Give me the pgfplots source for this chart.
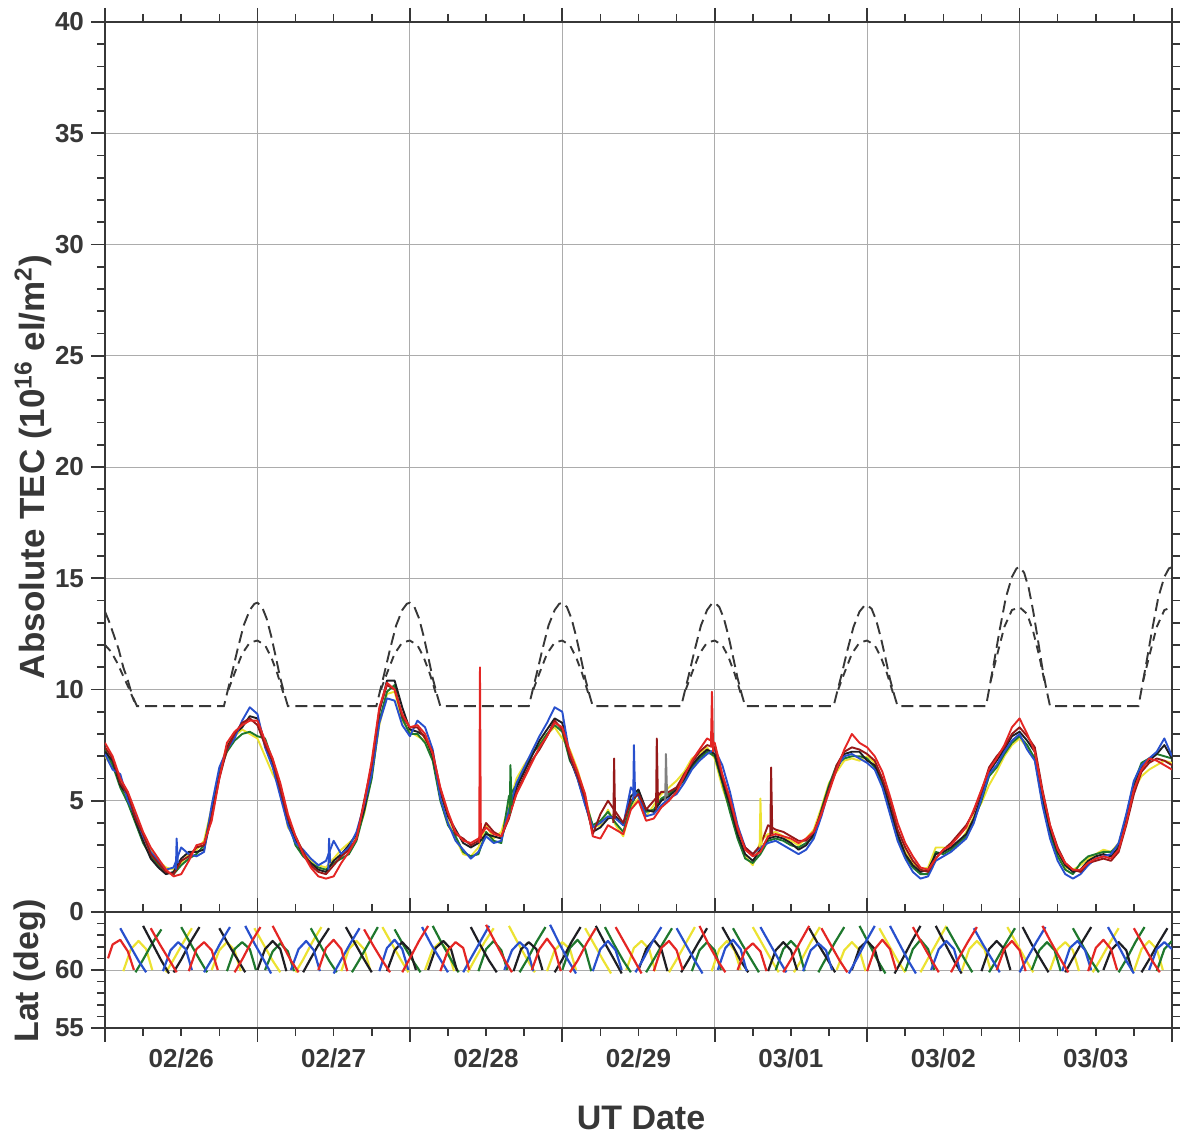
\documentclass[border=0pt]{standalone}
\usepackage{fontspec}
\setmainfont{Liberation Sans}
\usepackage{pgfplots}
\usepackage{pgfplotstable}
\pgfplotsset{compat=1.18}
\definecolor{cR}{RGB}{228,38,36}
\definecolor{cB}{RGB}{40,80,205}
\definecolor{cG}{RGB}{30,120,45}
\definecolor{cK}{RGB}{30,30,35}
\definecolor{cY}{RGB}{236,226,50}
\definecolor{cD}{RGB}{150,25,25}
\definecolor{axc}{RGB}{55,55,55}
\pgfplotstableread{
x r b g k y d
0.00 7.6 7.1 7.3 7.2 7.0 7.4
0.05 7.0 6.4 6.6 6.8 6.5 6.9
0.10 6.0 6.2 5.6 5.7 5.9 5.8
0.15 5.4 5.0 4.9 5.2 5.0 5.3
0.20 4.5 4.3 4.0 4.1 4.4 4.2
0.25 3.6 3.4 3.1 3.2 3.3 3.5
0.30 2.9 2.7 2.5 2.4 2.8 2.6
0.35 2.4 2.3 2.1 2.0 2.3 2.2
0.40 1.9 1.9 1.8 1.7 2.0 1.8
0.45 1.6 2.0 1.7 1.8 1.9 1.7
0.50 1.7 2.9 2.1 2.4 2.2 2.3
0.55 2.3 2.6 2.4 2.7 2.6 2.5
0.60 3.0 2.5 2.6 2.7 2.8 2.9
0.65 3.1 2.7 3.0 2.8 3.2 3.0
0.70 4.1 4.8 4.6 4.4 4.7 4.3
0.75 6.0 6.5 6.3 6.1 6.2 6.0
0.80 7.6 7.3 7.2 7.4 7.5 7.3
0.85 8.1 7.8 7.7 8.0 7.9 8.0
0.90 8.4 8.6 8.0 8.3 8.2 8.5
0.95 8.6 9.2 8.1 8.8 8.0 8.7
1.00 8.6 8.9 7.9 8.7 7.8 8.4
1.05 7.7 7.4 7.8 7.6 7.0 7.5
1.10 6.9 6.5 6.8 6.7 6.2 6.8
1.15 5.8 5.2 5.5 5.4 5.6 5.5
1.20 4.4 3.9 4.1 4.0 3.8 4.2
1.25 3.4 3.1 3.0 3.2 3.3 3.4
1.30 2.6 2.8 2.5 2.6 2.7 2.7
1.35 2.0 2.4 2.2 2.2 2.3 2.1
1.40 1.6 2.1 2.0 1.9 2.1 1.8
1.45 1.5 2.3 1.9 1.8 2.0 1.7
1.50 1.6 3.2 2.2 2.3 2.4 2.1
1.55 2.2 2.6 2.4 2.6 2.8 2.5
1.60 2.7 2.9 2.6 3.0 3.1 2.8
1.65 3.3 3.6 3.2 3.5 3.4 3.3
1.70 4.9 4.8 4.5 4.6 4.4 5.0
1.75 6.8 6.2 6.0 6.3 6.1 6.6
1.80 9.2 8.5 8.6 9.0 8.4 9.1
1.85 10.3 9.6 9.9 10.4 9.8 10.2
1.90 10.0 9.5 10.2 10.4 9.9 10.0
1.95 8.9 8.4 8.7 9.2 8.6 8.8
2.00 8.3 7.9 8.0 8.2 8.1 8.3
2.05 8.4 8.6 8.0 8.1 7.9 8.3
2.10 8.0 8.3 7.6 7.9 7.7 7.8
2.15 7.1 7.3 6.8 7.0 6.9 7.2
2.20 5.6 5.1 5.0 5.4 5.2 5.5
2.25 4.5 4.0 3.9 4.3 4.1 4.4
2.30 3.6 3.2 3.4 3.7 3.3 3.5
2.35 3.2 2.8 2.7 3.1 2.6 3.3
2.40 3.1 2.4 2.5 2.9 2.5 3.0
2.45 3.3 2.7 2.6 3.1 2.9 3.2
2.50 3.8 3.4 3.6 3.5 3.9 4.0
2.55 3.5 3.1 3.2 3.4 3.3 3.6
2.60 3.4 3.2 3.1 3.3 3.6 3.4
2.65 4.3 4.6 5.2 4.4 4.8 4.2
2.70 5.3 5.8 5.7 5.6 6.0 5.4
2.75 6.0 6.5 6.4 6.3 6.6 6.1
2.80 6.7 7.2 7.1 7.0 7.1 6.8
2.85 7.4 7.9 7.5 7.7 7.6 7.3
2.90 7.9 8.5 8.0 8.2 8.0 7.9
2.95 8.5 9.2 8.4 8.7 8.3 8.6
3.00 8.3 9.0 8.1 8.5 7.8 8.2
3.05 7.2 7.0 6.8 6.9 7.3 7.0
3.10 6.3 6.0 6.2 6.0 6.4 6.1
3.15 5.3 4.8 5.0 4.9 5.2 5.1
3.20 3.4 3.8 3.9 3.6 3.8 3.5
3.25 3.3 4.0 4.1 3.8 3.9 4.4
3.30 3.9 4.3 4.5 4.2 4.6 5.0
3.35 3.7 4.2 4.0 4.3 3.9 4.5
3.40 3.5 3.9 3.6 3.9 3.4 4.0
3.45 4.6 5.6 4.8 5.2 4.7 5.0
3.50 5.0 5.2 5.4 5.5 5.1 5.3
3.55 4.1 4.3 4.5 4.6 4.3 4.6
3.60 4.2 4.4 4.6 4.5 4.8 5.0
3.65 4.7 4.8 5.1 5.0 5.3 5.4
3.70 5.0 5.1 5.3 5.2 5.6 5.4
3.75 5.4 5.3 5.6 5.5 5.9 5.6
3.80 6.1 5.8 5.9 6.0 6.3 6.2
3.85 6.8 6.4 6.5 6.6 6.9 6.7
3.90 7.3 6.8 6.9 7.0 7.1 7.2
3.95 7.8 7.1 7.2 7.3 7.4 7.5
4.00 7.6 7.3 7.0 7.1 6.9 7.4
4.05 6.2 6.6 5.8 5.9 5.6 6.1
4.10 5.1 5.4 4.5 4.8 4.6 5.0
4.15 3.8 3.9 3.3 3.5 3.4 3.7
4.20 2.8 2.9 2.4 2.6 2.5 2.9
4.25 2.5 2.6 2.2 2.3 2.1 2.6
4.30 2.7 2.9 2.6 2.8 3.2 3.0
4.35 3.4 3.1 3.2 3.3 3.5 3.9
4.40 3.5 3.2 3.3 3.4 3.6 3.7
4.45 3.4 3.0 3.2 3.3 3.4 3.6
4.50 3.3 2.8 3.0 3.1 3.2 3.4
4.55 3.1 2.6 2.9 2.8 3.0 3.2
4.60 3.3 2.8 3.1 3.0 3.3 3.2
4.65 3.6 3.3 3.4 3.5 3.7 3.6
4.70 4.4 4.3 4.6 4.5 4.7 4.5
4.75 5.4 5.5 5.7 5.6 5.8 5.5
4.80 6.4 6.5 6.6 6.4 6.3 6.6
4.85 7.3 7.0 6.9 7.1 6.8 7.2
4.90 8.0 7.1 7.0 7.2 6.9 7.4
4.95 7.6 6.9 7.0 7.2 6.8 7.3
5.00 7.4 6.7 6.9 6.8 7.0 7.1
5.05 7.0 6.4 6.5 6.6 6.7 6.8
5.10 6.3 5.6 5.7 5.9 5.8 6.0
5.15 5.2 4.4 4.5 4.7 4.6 5.0
5.20 4.0 3.2 3.3 3.5 3.4 3.7
5.25 3.1 2.4 2.5 2.6 2.7 2.9
5.30 2.5 1.8 2.0 2.1 2.2 2.3
5.35 2.0 1.5 1.7 1.8 1.9 1.9
5.40 1.9 1.6 1.7 1.9 2.0 1.8
5.45 2.4 2.3 2.7 2.6 2.9 2.4
5.50 2.8 2.5 2.6 2.7 2.9 2.8
5.55 3.0 2.7 2.8 2.9 2.8 3.1
5.60 3.4 3.0 3.1 3.2 3.1 3.5
5.65 3.8 3.3 3.4 3.5 3.6 3.9
5.70 4.6 4.0 4.1 4.2 4.3 4.5
5.75 5.5 5.1 5.0 5.2 4.9 5.4
5.80 6.4 6.2 6.1 6.3 5.7 6.5
5.85 6.9 6.6 6.5 6.8 6.3 7.0
5.90 7.5 7.2 7.1 7.3 7.0 7.4
5.95 8.3 7.7 7.6 7.9 7.5 8.0
6.00 8.7 8.0 7.9 8.1 7.8 8.3
6.05 8.0 7.3 7.5 7.7 7.4 7.9
6.10 7.2 6.8 6.9 7.2 6.9 7.4
6.15 5.4 4.8 5.0 5.2 4.9 5.5
6.20 3.9 3.3 3.5 3.7 3.6 3.9
6.25 2.8 2.3 2.5 2.7 2.6 2.9
6.30 2.2 1.7 1.9 2.1 2.0 2.2
6.35 1.9 1.5 1.7 1.8 1.9 1.9
6.40 1.9 1.7 2.2 1.9 2.1 1.8
6.45 2.2 2.1 2.5 2.3 2.4 2.2
6.50 2.4 2.4 2.6 2.5 2.6 2.3
6.55 2.5 2.5 2.7 2.6 2.8 2.4
6.60 2.4 2.6 2.7 2.5 2.7 2.3
6.65 2.8 3.1 3.0 2.9 3.1 2.7
6.70 4.0 4.4 4.3 4.1 4.2 3.9
6.75 5.5 5.9 5.8 5.6 5.5 5.3
6.80 6.4 6.6 6.7 6.5 6.1 6.3
6.85 6.9 6.9 6.9 6.8 6.4 6.7
6.90 6.8 7.2 7.1 7.1 6.6 6.9
6.95 6.6 7.8 7.0 7.5 6.8 6.8
7.00 6.4 7.0 6.9 6.9 6.7 6.6
}\tec
\begin{document}
\begin{tikzpicture}
\pgfplotsset{
  common/.style={
    scale only axis, width=533.5pt, xmin=0, xmax=7,
    axis line style={line width=1pt, axc},
    every tick/.style={line width=0.8pt, axc},
    major tick length=7pt, minor tick length=4pt,
    tick align=outside,
    grid=major, grid style={line width=0.45pt, gray!65},
    xtick={0,...,7}, minor x tick num=3, xticklabels={},
    /pgf/number format/assume math mode=true,
    tick label style={font=\bfseries\fontsize{13}{13}\selectfont, text=axc},
  },
  tl/.style={line width=0.95pt, line join=round},
  ll/.style={line width=1.1pt, line join=round},
}
\begin{axis}[common, at={(0,0)}, anchor=south west, height=445pt,
  ymin=0, ymax=40, ytick={0,5,...,40}, minor y tick num=4,
  xtick pos=upper, ytick pos=both, yticklabel pos=left]
\addplot[cY, tl] table[x=x, y=y] {\tec};
\addplot[cG, tl] table[x=x, y=g] {\tec};
\addplot[cK, tl] table[x=x, y=k] {\tec};
\addplot[cB, tl] table[x=x, y=b] {\tec};
\addplot[cD, tl] table[x=x, y=d] {\tec};
\addplot[cR, tl] table[x=x, y=r] {\tec};
% spikes
\addplot[cR, tl] coordinates {(2.455,3.1)(2.46,11.0)(2.466,3.3)};
\addplot[cR, tl] coordinates {(3.975,7.4)(3.982,9.9)(3.99,7.2)};
\addplot[cG, tl] coordinates {(2.655,4.4)(2.66,6.6)(2.668,4.8)};
\addplot[cD, tl] coordinates {(3.335,4.0)(3.34,6.9)(3.347,4.2)};
\addplot[cD, tl] coordinates {(3.615,4.6)(3.62,7.8)(3.628,4.9)};
\addplot[cB, tl] coordinates {(3.465,5.0)(3.47,7.5)(3.478,5.2)};
\addplot[gray, tl] coordinates {(3.675,5.0)(3.68,7.1)(3.688,5.2)};
\addplot[cY, tl] coordinates {(4.295,2.9)(4.30,5.1)(4.308,3.0)};
\addplot[cD, tl] coordinates {(4.365,3.4)(4.37,6.5)(4.378,3.5)};
\addplot[cB, tl] coordinates {(0.465,1.9)(0.47,3.3)(0.478,2.2)};
\addplot[cB, tl] coordinates {(1.465,1.9)(1.47,3.3)(1.478,2.2)};
% dashed model curves
\addplot[axc, line width=0.95pt, dash pattern=on 6pt off 3pt] coordinates {
(0,13.5)(0.03,13.0)(0.06,12.4)(0.09,11.8)(0.12,11.0)(0.15,10.4)(0.18,9.7)(0.21,9.25)
(0.78,9.25)(0.80,9.81)(0.83,10.65)(0.87,11.81)(0.91,12.88)(0.95,13.57)(0.98,13.85)(1.00,13.9)(1.03,13.71)(1.06,13.2)(1.09,12.41)(1.12,11.48)(1.15,10.51)(1.18,9.72)(1.20,9.25)
(1.78,9.25)(1.80,9.81)(1.83,10.65)(1.87,11.81)(1.91,12.88)(1.95,13.57)(1.98,13.85)(2.00,13.9)(2.03,13.71)(2.06,13.2)(2.09,12.41)(2.12,11.48)(2.15,10.51)(2.18,9.72)(2.20,9.25)
(2.78,9.25)(2.80,9.81)(2.83,10.65)(2.87,11.81)(2.91,12.88)(2.95,13.57)(2.98,13.85)(3.00,13.9)(3.03,13.71)(3.06,13.2)(3.09,12.41)(3.12,11.48)(3.15,10.51)(3.18,9.72)(3.20,9.25)
(3.78,9.25)(3.80,9.81)(3.83,10.65)(3.87,11.81)(3.91,12.88)(3.95,13.57)(3.98,13.85)(4.00,13.9)(4.03,13.71)(4.06,13.2)(4.09,12.41)(4.12,11.48)(4.15,10.51)(4.18,9.72)(4.20,9.25)
(4.78,9.25)(4.80,9.8)(4.83,10.6)(4.87,11.75)(4.91,12.8)(4.95,13.5)(4.98,13.75)(5.00,13.8)(5.03,13.62)(5.06,13.1)(5.09,12.33)(5.12,11.42)(5.15,10.47)(5.18,9.7)(5.20,9.25)
(5.78,9.25)(5.80,10.0)(5.83,11.13)(5.87,12.69)(5.91,14.13)(5.95,15.06)(5.98,15.44)(6.00,15.5)(6.03,15.25)(6.06,14.56)(6.09,13.5)(6.12,12.25)(6.15,10.94)(6.18,9.88)(6.20,9.25)
(6.78,9.25)(6.80,10.0)(6.83,11.13)(6.87,12.69)(6.91,14.13)(6.95,15.06)(6.98,15.44)(7.00,15.5)};
\addplot[axc, line width=0.95pt, dash pattern=on 4pt off 3pt, unbounded coords=jump] coordinates {
(0,12.0)(0.04,11.7)(0.08,11.2)(0.12,10.6)(0.16,10.0)(0.19,9.5)(0.21,9.25) (0.5,nan)
(0.81,9.99)(0.85,10.73)(0.90,11.61)(0.95,12.11)(1.00,12.2)(1.05,11.99)(1.09,11.46)(1.13,10.73)(1.17,9.84) (1.5,nan)
(1.81,9.99)(1.85,10.73)(1.90,11.61)(1.95,12.11)(2.00,12.2)(2.05,11.99)(2.09,11.46)(2.13,10.73)(2.17,9.84) (2.5,nan)
(2.81,9.99)(2.85,10.73)(2.90,11.61)(2.95,12.11)(3.00,12.2)(3.05,11.99)(3.09,11.46)(3.13,10.73)(3.17,9.84) (3.5,nan)
(3.81,9.99)(3.85,10.73)(3.90,11.61)(3.95,12.11)(4.00,12.2)(4.05,11.99)(4.09,11.46)(4.13,10.73)(4.17,9.84) (4.5,nan)
(4.81,9.99)(4.85,10.73)(4.90,11.61)(4.95,12.11)(5.00,12.2)(5.05,11.99)(5.09,11.46)(5.13,10.73)(5.17,9.84) (5.5,nan)
(5.81,10.36)(5.85,11.48)(5.90,12.81)(5.95,13.57)(6.00,13.7)(6.05,13.39)(6.09,12.59)(6.13,11.48)(6.17,10.14) (6.5,nan)
(6.81,10.36)(6.85,11.48)(6.90,12.81)(6.95,13.57)(7.00,13.7)};
\end{axis}
\begin{axis}[common, at={(0,0)}, anchor=north west, height=58pt,
  ymin=55, ymax=65, ytick={55,60,65}, yticklabels={55,60,{}}, minor y tick num=4,
  xtick pos=both, xticklabel pos=lower, ytick pos=both, yticklabel pos=left,
  unbounded coords=jump,
  extra x ticks={0.5,1.5,2.5,3.5,4.5,5.5,6.5},
  extra x tick labels={02/26,02/27,02/28,02/29,03/01,03/02,03/03},
  extra x tick style={grid=none, major tick length=0pt, xticklabel style={yshift=-7pt}}]
\addplot[cY, ll] coordinates {
(0.12,59.9)(0.17,61.8)(0.22,62.5)(0.27,61.8)(0.31,60.0)(0,nan)
(0.40,59.8)(0.45,60.9)(0.51,62.3)(0.57,63.6)(0,nan)
(0.70,60.0)(0.75,61.7)(0.80,62.4)(0.85,61.7)(0.89,59.9)(0,nan)
(0.98,63.6)(1.04,62.2)(1.10,60.8)(1.15,59.8)(0,nan)
(1.25,59.8)(1.30,60.9)(1.36,62.4)(1.42,63.7)(0,nan)
(1.55,59.9)(1.60,61.8)(1.65,62.5)(1.70,61.8)(1.74,60.0)(0,nan)
(1.82,63.7)(1.88,62.3)(1.94,60.9)(1.99,59.8)(0,nan)
(2.10,60.0)(2.15,61.8)(2.20,62.4)(2.25,61.7)(2.29,59.9)(0,nan)
(2.38,59.8)(2.43,61.0)(2.49,62.4)(2.55,63.6)(0,nan)
(2.65,63.8)(2.71,62.3)(2.77,60.9)(2.82,59.8)(0,nan)
(2.90,59.9)(2.95,61.7)(3.00,62.4)(3.05,61.8)(3.09,60.0)(0,nan)
(3.15,63.6)(3.21,62.2)(3.27,60.8)(3.32,59.7)(0,nan)
(3.42,60.0)(3.47,61.9)(3.52,62.5)(3.57,61.8)(3.61,59.9)(0,nan)
(3.70,59.8)(3.75,60.9)(3.81,62.3)(3.87,63.7)(0,nan)
(3.98,59.9)(4.03,61.8)(4.08,62.5)(4.13,61.7)(4.17,60.0)(0,nan)
(4.25,63.7)(4.31,62.3)(4.37,60.9)(4.42,59.8)(0,nan)
(4.52,59.8)(4.57,60.9)(4.63,62.4)(4.69,63.7)(0,nan)
(4.80,60.0)(4.85,61.7)(4.90,62.4)(4.95,61.7)(4.99,59.9)(0,nan)
(5.08,63.6)(5.14,62.2)(5.20,60.8)(5.25,59.8)(0,nan)
(5.35,59.8)(5.40,61.0)(5.46,62.4)(5.52,63.8)(0,nan)
(5.62,59.9)(5.67,61.8)(5.72,62.5)(5.77,61.8)(5.81,60.0)(0,nan)
(5.92,63.7)(5.98,62.3)(6.04,60.9)(6.09,59.8)(0,nan)
(6.20,60.0)(6.25,61.8)(6.30,62.4)(6.35,61.7)(6.39,59.9)(0,nan)
(6.48,59.8)(6.53,60.9)(6.59,62.3)(6.65,63.6)(0,nan)
(6.75,59.9)(6.80,61.8)(6.85,62.5)(6.90,61.8)(6.94,60.0)};
\addplot[cG, ll] coordinates {
(0.20,59.8)(0.25,60.9)(0.31,62.3)(0.37,63.5)(0,nan)
(0.50,63.7)(0.56,62.3)(0.62,60.9)(0.67,59.8)(0,nan)
(0.80,59.9)(0.85,61.8)(0.90,62.4)(0.95,61.8)(0.99,60.0)(0,nan)
(1.05,60.0)(1.10,61.6)(1.15,62.3)(1.20,61.6)(1.24,59.9)(0,nan)
(1.35,63.6)(1.41,62.2)(1.47,60.8)(1.52,59.8)(0,nan)
(1.62,59.8)(1.67,60.9)(1.73,62.3)(1.79,63.7)(0,nan)
(1.90,63.5)(1.96,62.1)(2.02,60.8)(2.07,59.8)(0,nan)
(2.15,63.8)(2.21,62.3)(2.27,60.9)(2.32,59.8)(0,nan)
(2.45,59.9)(2.50,61.8)(2.55,62.5)(2.60,61.7)(2.64,60.0)(0,nan)
(2.72,59.8)(2.77,60.9)(2.83,62.4)(2.89,63.7)(0,nan)
(3.00,60.0)(3.05,61.9)(3.10,62.6)(3.15,61.8)(3.19,59.9)(0,nan)
(3.28,63.7)(3.34,62.2)(3.40,60.8)(3.45,59.8)(0,nan)
(3.55,59.8)(3.60,60.9)(3.66,62.3)(3.72,63.6)(0,nan)
(3.85,59.9)(3.90,61.7)(3.95,62.4)(4.00,61.7)(4.04,60.0)(0,nan)
(4.12,63.6)(4.18,62.2)(4.24,60.9)(4.29,59.8)(0,nan)
(4.40,60.0)(4.45,61.8)(4.50,62.5)(4.55,61.8)(4.59,59.9)(0,nan)
(4.68,59.8)(4.73,61.0)(4.79,62.4)(4.85,63.7)(0,nan)
(4.95,63.8)(5.01,62.3)(5.07,60.8)(5.12,59.7)(0,nan)
(5.25,59.9)(5.30,61.8)(5.35,62.6)(5.40,61.8)(5.44,60.0)(0,nan)
(5.52,63.7)(5.58,62.3)(5.64,60.9)(5.69,59.8)(0,nan)
(5.80,59.8)(5.85,60.9)(5.91,62.3)(5.97,63.6)(0,nan)
(6.08,60.0)(6.13,61.7)(6.18,62.4)(6.23,61.7)(6.27,59.9)(0,nan)
(6.35,63.6)(6.41,62.2)(6.47,60.8)(6.52,59.8)(0,nan)
(6.65,59.8)(6.70,60.9)(6.76,62.4)(6.82,63.7)(0,nan)
(6.90,59.9)(6.95,61.8)(7.00,62.5)};
\addplot[cK, ll] coordinates {
(0.25,63.8)(0.31,62.3)(0.37,60.8)(0.42,59.7)(0,nan)
(0.45,59.8)(0.50,60.9)(0.56,62.4)(0.62,63.7)(0,nan)
(0.75,63.6)(0.81,62.2)(0.87,60.9)(0.92,59.8)(0,nan)
(1.00,60.0)(1.05,61.8)(1.10,62.5)(1.15,61.8)(1.19,59.9)(0,nan)
(1.30,59.8)(1.35,61.0)(1.41,62.4)(1.47,63.6)(0,nan)
(1.58,63.7)(1.64,62.3)(1.70,60.9)(1.75,59.8)(0,nan)
(1.85,59.9)(1.90,61.7)(1.95,62.4)(2.00,61.7)(2.04,60.0)(0,nan)
(2.12,60.0)(2.17,61.9)(2.22,62.5)(2.27,61.8)(2.31,59.9)(0,nan)
(2.40,63.7)(2.46,62.2)(2.52,60.8)(2.57,59.8)(0,nan)
(2.68,59.9)(2.73,61.8)(2.78,62.4)(2.83,61.8)(2.87,60.0)(0,nan)
(2.95,59.8)(3.00,60.9)(3.06,62.4)(3.12,63.7)(0,nan)
(3.22,63.8)(3.28,62.3)(3.34,60.9)(3.39,59.7)(0,nan)
(3.50,60.0)(3.55,61.8)(3.60,62.6)(3.65,61.8)(3.69,59.9)(0,nan)
(3.78,59.8)(3.83,60.9)(3.89,62.3)(3.95,63.6)(0,nan)
(4.05,63.7)(4.11,62.3)(4.17,60.8)(4.22,59.8)(0,nan)
(4.35,59.9)(4.40,61.7)(4.45,62.4)(4.50,61.7)(4.54,60.0)(0,nan)
(4.62,63.6)(4.68,62.2)(4.74,60.9)(4.79,59.8)(0,nan)
(4.90,60.0)(4.95,61.9)(5.00,62.5)(5.05,61.8)(5.09,59.9)(0,nan)
(5.18,59.7)(5.23,60.9)(5.29,62.4)(5.35,63.8)(0,nan)
(5.45,63.8)(5.51,62.3)(5.57,60.8)(5.62,59.7)(0,nan)
(5.75,59.9)(5.80,61.8)(5.85,62.5)(5.90,61.8)(5.94,60.0)(0,nan)
(6.02,63.7)(6.08,62.2)(6.14,60.9)(6.19,59.8)(0,nan)
(6.30,59.8)(6.35,61.0)(6.41,62.4)(6.47,63.7)(0,nan)
(6.55,60.0)(6.60,61.7)(6.65,62.4)(6.70,61.7)(6.74,59.9)(0,nan)
(6.80,59.8)(6.85,60.9)(6.91,62.3)(6.97,63.6)};
\addplot[cB, ll] coordinates {
(0.10,63.6)(0.16,62.2)(0.22,60.8)(0.27,59.8)(0,nan)
(0.38,59.9)(0.43,61.7)(0.48,62.4)(0.53,61.8)(0.57,60.0)(0,nan)
(0.65,59.8)(0.70,60.9)(0.76,62.4)(0.82,63.7)(0,nan)
(0.92,63.8)(0.98,62.3)(1.04,60.9)(1.09,59.7)(0,nan)
(1.22,60.0)(1.27,61.8)(1.32,62.5)(1.37,61.7)(1.41,59.9)(0,nan)
(1.50,59.7)(1.55,60.9)(1.61,62.3)(1.67,63.6)(0,nan)
(1.80,59.9)(1.85,61.9)(1.90,62.6)(1.95,61.8)(1.99,60.0)(0,nan)
(2.08,63.7)(2.14,62.2)(2.20,60.9)(2.25,59.8)(0,nan)
(2.35,59.8)(2.40,61.0)(2.46,62.4)(2.52,63.8)(0,nan)
(2.62,60.0)(2.67,61.7)(2.72,62.4)(2.77,61.8)(2.81,59.9)(0,nan)
(2.92,63.9)(2.98,62.3)(3.04,60.8)(3.09,59.7)(0,nan)
(3.20,59.9)(3.25,61.8)(3.30,62.5)(3.35,61.7)(3.39,60.0)(0,nan)
(3.48,59.8)(3.53,60.9)(3.59,62.4)(3.65,63.7)(0,nan)
(3.75,63.6)(3.81,62.2)(3.87,60.8)(3.92,59.7)(0,nan)
(4.02,60.0)(4.07,61.9)(4.12,62.6)(4.17,61.8)(4.21,59.9)(0,nan)
(4.30,63.7)(4.36,62.3)(4.42,60.9)(4.47,59.8)(0,nan)
(4.58,59.9)(4.63,61.7)(4.68,62.3)(4.73,61.7)(4.77,60.0)(0,nan)
(4.88,59.7)(4.93,60.9)(4.99,62.4)(5.05,63.8)(0,nan)
(5.15,63.8)(5.21,62.3)(5.27,60.8)(5.32,59.7)(0,nan)
(5.42,60.0)(5.47,61.8)(5.52,62.5)(5.57,61.8)(5.61,59.9)(0,nan)
(5.70,63.6)(5.76,62.2)(5.82,60.9)(5.87,59.8)(0,nan)
(6.00,59.8)(6.05,61.0)(6.11,62.4)(6.17,63.7)(0,nan)
(6.28,59.9)(6.33,61.9)(6.38,62.5)(6.43,61.7)(6.47,60.0)(0,nan)
(6.58,63.7)(6.64,62.3)(6.70,60.8)(6.75,59.7)(0,nan)
(6.85,60.0)(6.90,61.8)(6.95,62.4)(7.00,61.8)};
\addplot[cR, ll] coordinates {
(0.02,61.0)(0.05,62.2)(0.10,62.6)(0.15,61.6)(0.19,60.0)(0,nan)
(0.30,63.6)(0.36,62.2)(0.42,60.9)(0.47,59.8)(0,nan)
(0.55,59.9)(0.60,61.8)(0.65,62.4)(0.70,61.7)(0.74,60.0)(0,nan)
(0.85,59.8)(0.90,60.9)(0.96,62.4)(1.02,63.7)(0,nan)
(1.10,63.8)(1.16,62.3)(1.22,60.8)(1.27,59.8)(0,nan)
(1.40,60.0)(1.45,61.9)(1.50,62.6)(1.55,61.8)(1.59,59.9)(0,nan)
(1.70,63.5)(1.76,62.1)(1.82,60.8)(1.87,59.8)(0,nan)
(1.95,59.8)(2.00,61.0)(2.06,62.5)(2.12,63.8)(0,nan)
(2.20,59.9)(2.25,61.7)(2.30,62.4)(2.35,61.9)(2.39,60.0)(0,nan)
(2.50,63.9)(2.56,62.4)(2.62,60.9)(2.67,59.8)(0,nan)
(2.80,60.0)(2.85,61.8)(2.90,62.7)(2.95,61.8)(2.99,59.9)(0,nan)
(3.05,59.8)(3.10,60.8)(3.16,62.3)(3.22,63.6)(0,nan)
(3.35,63.7)(3.41,62.3)(3.47,60.9)(3.52,59.7)(0,nan)
(3.60,59.9)(3.65,61.9)(3.70,62.5)(3.75,61.7)(3.79,60.0)(0,nan)
(3.90,63.8)(3.96,62.2)(4.02,60.8)(4.07,59.8)(0,nan)
(4.15,60.0)(4.20,61.7)(4.25,62.3)(4.30,61.6)(4.34,59.9)(0,nan)
(4.45,59.8)(4.50,60.9)(4.56,62.4)(4.62,63.8)(0,nan)
(4.70,63.6)(4.76,62.2)(4.82,60.8)(4.87,59.8)(0,nan)
(5.00,59.9)(5.05,61.8)(5.10,62.6)(5.15,61.8)(5.19,60.0)(0,nan)
(5.30,63.7)(5.36,62.3)(5.42,60.9)(5.47,59.8)(0,nan)
(5.55,59.8)(5.60,61.0)(5.66,62.4)(5.72,63.7)(0,nan)
(5.85,60.0)(5.90,61.8)(5.95,62.5)(6.00,61.7)(6.04,59.9)(0,nan)
(6.15,63.8)(6.21,62.3)(6.27,60.9)(6.32,59.8)(0,nan)
(6.45,59.9)(6.50,61.9)(6.55,62.6)(6.60,61.8)(6.64,60.0)(0,nan)
(6.75,63.6)(6.81,62.2)(6.87,60.8)(6.92,59.8)};
\end{axis}
\node[rotate=90, text=axc, font=\bfseries\fontsize{17.5}{17.5}\selectfont] at (-36pt,222.5pt) {Absolute TEC (10\textsuperscript{16} el/m\textsuperscript{2})};
\node[rotate=90, text=axc, font=\bfseries\fontsize{17}{17}\selectfont] at (-37.5pt,-29.5pt) {Lat (deg)};
\node[text=axc, font=\bfseries\fontsize{17}{17}\selectfont] at (268pt,-103pt) {UT Date};
\pgfresetboundingbox
\path (-52.5pt,-113pt) rectangle (537.5pt,456pt);
\end{tikzpicture}
\end{document}
